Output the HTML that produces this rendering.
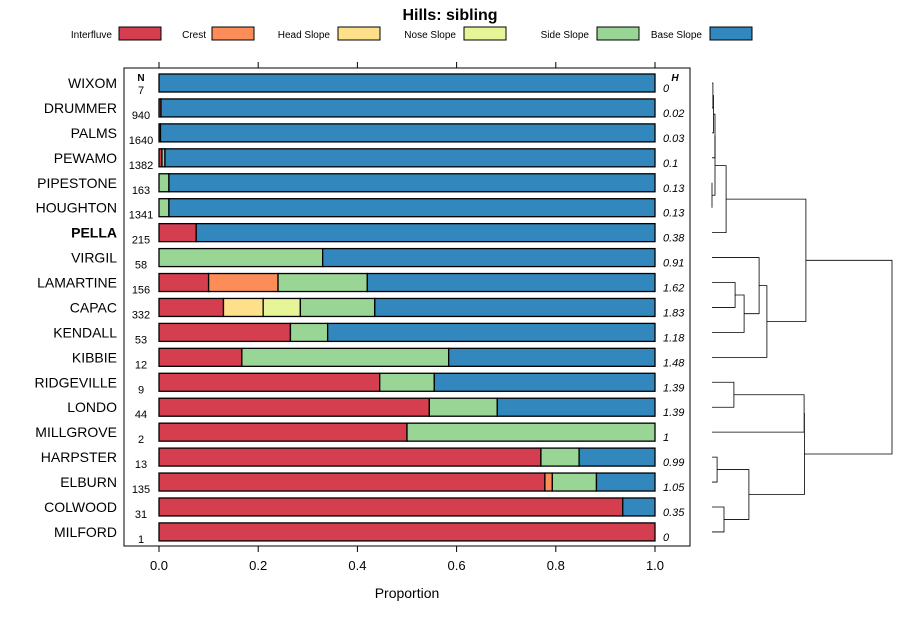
<!DOCTYPE html>
<html><head><meta charset="utf-8"><style>
body{margin:0;background:#fff;font-family:"Liberation Sans",sans-serif}
svg text{font-family:"Liberation Sans",sans-serif}
</style></head><body>
<svg id="c" width="900" height="620" xmlns="http://www.w3.org/2000/svg"></svg>
<script>
const classes=["Interfluve","Crest","Head Slope","Nose Slope","Side Slope","Base Slope"];
const colors=["#d53e4f","#fc8d59","#fee08b","#e6f598","#99d594","#3288bd"];
const soils=["WIXOM","DRUMMER","PALMS","PEWAMO","PIPESTONE","HOUGHTON","PELLA","VIRGIL","LAMARTINE","CAPAC","KENDALL","KIBBIE","RIDGEVILLE","LONDO","MILLGROVE","HARPSTER","ELBURN","COLWOOD","MILFORD"];
const counts=[7,940,1640,1382,163,1341,215,58,156,332,53,12,9,44,2,13,135,31,1];
const hvals=["0","0.02","0.03","0.1","0.13","0.13","0.38","0.91","1.62","1.83","1.18","1.48","1.39","1.39","1","0.99","1.05","0.35","0"];
const props=[
[0,0,0,0,0,1],[0.004,0,0,0,0,0.996],[0.003,0,0,0,0,0.997],[0.006,0,0,0,0.006,0.988],
[0,0,0,0,0.02,0.98],[0,0,0,0,0.02,0.98],[0.075,0,0,0,0,0.925],[0,0,0,0,0.33,0.67],
[0.10,0.14,0,0,0.18,0.58],[0.13,0,0.08,0.075,0.15,0.565],[0.265,0,0,0,0.075,0.66],
[0.167,0,0,0,0.417,0.416],[0.445,0,0,0,0.11,0.445],[0.545,0,0,0,0.137,0.318],
[0.5,0,0,0,0.5,0],[0.77,0,0,0,0.077,0.153],[0.778,0.015,0,0,0.089,0.118],
[0.935,0,0,0,0,0.065],[1,0,0,0,0,0]];
const xticks=[0,0.2,0.4,0.6,0.8,1.0];
const merges=[
[-1,-2,0.3],[1,-3,0.5],[2,-4,1],[-5,-6,0],[3,4,1],[5,-7,4.7],
[-9,-10,7.7],[7,-11,10.7],[-8,8,15.7],[9,-12,18.3],[6,10,31.3],
[-13,-14,7.3],[-16,-17,1.7],[-18,-19,4],[13,14,12.3],[12,-15,30.7],[16,15,30.8],[11,17,60]];
const NS="http://www.w3.org/2000/svg";
const svg=document.getElementById('c');
function el(t,a,txt){const e=document.createElementNS(NS,t);for(const k in a)e.setAttribute(k,a[k]);if(txt!==undefined)e.textContent=txt;svg.appendChild(e);return e;}
const X=v=>159+v*496;
const Y=i=>83+i*24.94;
const DX=h=>712+h*3;
let t=el('text',{x:450,y:20,'text-anchor':'middle','font-size':16,'font-weight':'bold'},'Hills: sibling');

const legTx=[112,206,330,456,589,702],legSw=[119,212,338,464,597,710];
classes.forEach((c,k)=>{
 let tt=el('text',{x:legTx[k],y:38,'text-anchor':'end','font-size':10},c);
 
 let r=el('rect',{x:legSw[k],y:27,width:42,height:13,fill:colors[k],stroke:'#000','stroke-width':1});
 
});
let p=el('rect',{x:124,y:68,width:566,height:478,fill:'none',stroke:'#000','stroke-width':1});

xticks.forEach(v=>{
 el('line',{x1:X(v),x2:X(v),y1:62,y2:68,stroke:'#000'});
 el('line',{x1:X(v),x2:X(v),y1:546,y2:552,stroke:'#000'});
 let tl=el('text',{x:X(v),y:570,'text-anchor':'middle','font-size':13},v.toFixed(1));
 
});
let xt=el('text',{x:407,y:598,'text-anchor':'middle','font-size':14},'Proportion');

el('text',{x:141,y:81,'text-anchor':'middle','font-size':10,'font-weight':'bold'},'N');
el('text',{x:675,y:81,'text-anchor':'middle','font-size':10,'font-weight':'bold','font-style':'italic'},'H');
soils.forEach((s,i)=>{
 const y=Y(i);
 let nl=el('text',{x:117,y:y+5,'text-anchor':'end','font-size':14,'font-weight':s==='PELLA'?'bold':'normal'},s);
 
 el('text',{x:141,y:y+11,'text-anchor':'middle','font-size':11},counts[i]);
 el('text',{x:663,y:y+9,'font-size':11,'font-style':'italic'},hvals[i]);
 let cum=0;
 props[i].forEach((v,k)=>{
  if(v<=0)return;
  let r=el('rect',{x:X(cum),y:y-9,width:v*496,height:18,fill:colors[k],stroke:'#000','stroke-width':1.3});
  
  cum+=v;
 });
});
const nodes=[];
function pos(id){if(id<0)return{x:DX(0),y:Y(-id-1)};return nodes[id-1];}
merges.forEach(m=>{
 const a=pos(m[0]),b=pos(m[1]),hx=DX(m[2]);
 let pth=el('path',{d:`M${a.x},${a.y}H${hx}V${b.y}H${b.x}`,fill:'none',stroke:'#000','stroke-width':0.8});
 
 nodes.push({x:hx,y:(a.y+b.y)/2});
});
</script>
</body></html>
